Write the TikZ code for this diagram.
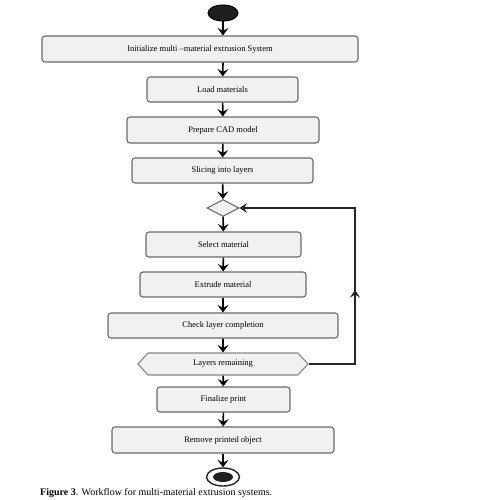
\documentclass[tikz,border=0pt]{standalone}
\usepackage{fontspec}
\setmainfont{Liberation Serif}
\usepackage{tikz}
\usepackage{xcolor}
\usetikzlibrary{positioning,shapes,arrows.meta}

\definecolor{boxfill}{HTML}{F1F1F1}
\definecolor{boxline}{HTML}{6A6A6A}

\begin{document}
\begin{tikzpicture}[x=10pt,y=10pt]
\tikzstyle{every node}+=[inner sep=0pt]
\tikzstyle{stepbox}=[draw=boxline, line width=1.1pt, fill=boxfill, rounded corners=3pt, minimum height=25pt, font=\fontsize{8.5}{9}\selectfont]
\tikzstyle{flow}=[draw=black, line width=1.6pt, -{Stealth[length=7.5pt,width=11pt,inset=3pt]}]
\tikzstyle{back}=[draw=black!85, line width=1.1pt, -{Stealth[length=7.5pt,width=10pt,inset=3pt]}]
\useasboundingbox (0,0) rectangle (49.5,-50);
% start and end
\node [ellipse, draw=black, line width=1pt, fill=black!88, minimum width=30pt, minimum height=16pt] (start) at (22.3,-1.3) {};
\node [ellipse, draw=black!85, line width=1.4pt, fill=white, minimum width=33pt, minimum height=18pt] (stop) at (22.3,-47.7) {};
\node [ellipse, fill=black!88, minimum width=20pt, minimum height=10pt] (stopdot) at (stop.center) {};
% steps
\node [stepbox, minimum width=316pt, minimum height=26pt] (init) at (20.0,-4.9) {Initialize multi --material extrusion System};
\node [stepbox, minimum width=151pt] (load) at (22.25,-8.95) {Load materials};
\node [stepbox, minimum width=192pt, minimum height=26pt] (cad) at (22.3,-13.0) {Prepare CAD model};
\node [stepbox, minimum width=181pt] (slice) at (22.25,-17.05) {Slicing into layers};
\node [diamond, draw=boxline, line width=1.1pt, fill=boxfill, minimum width=32pt, minimum height=17pt] (merge) at (22.3,-20.8) {};
\node [stepbox, minimum width=155pt] (select) at (22.35,-24.45) {Select material};
\node [stepbox, minimum width=166pt] (extrude) at (22.3,-28.45) {Extrude material};
\node [stepbox, minimum width=230pt] (check) at (22.3,-32.55) {Check layer completion};
\node [signal, signal to=west and east, signal pointer angle=95, draw=boxline!80, line width=1.1pt, fill=boxfill, minimum width=170pt, minimum height=22pt, font=\fontsize{8.5}{9}\selectfont] (remain) at (22.3,-36.4) {Layers remaining};
\node [stepbox, minimum width=133pt] (final) at (22.35,-39.95) {Finalize print};
\node [stepbox, minimum width=222pt, minimum height=26pt] (remove) at (22.3,-44.0) {Remove printed object};
\node [anchor=west, font=\fontsize{10}{11}\selectfont] (caption) at (4.0,-49.3) {\textbf{Figure 3}. Workflow for multi-material extrusion systems.};
% arrows
\draw [flow] (start) -- (start |- init.north);
\draw [flow] (init.south -| start) -- (load);
\draw [flow] (load) -- (cad);
\draw [flow] (cad) -- (slice);
\draw [flow] (slice) -- (merge);
\draw [flow] (merge) -- (select);
\draw [flow] (select) -- (extrude);
\draw [flow] (extrude) -- (check);
\draw [flow] (check) -- (remain);
\draw [flow] (remain) -- (final);
\draw [flow] (final) -- (remove);
\draw [flow] (remove) -- (stop);
% loop back
\coordinate (loop) at (35.5,-20.8);
\coordinate (loopmid) at (35.5,-29.0);
\draw [back] (remain.east) -| (loop) -- (merge.east);
\draw [back] (remain.east -| loop) -- (loopmid);
\end{tikzpicture}
\end{document}
